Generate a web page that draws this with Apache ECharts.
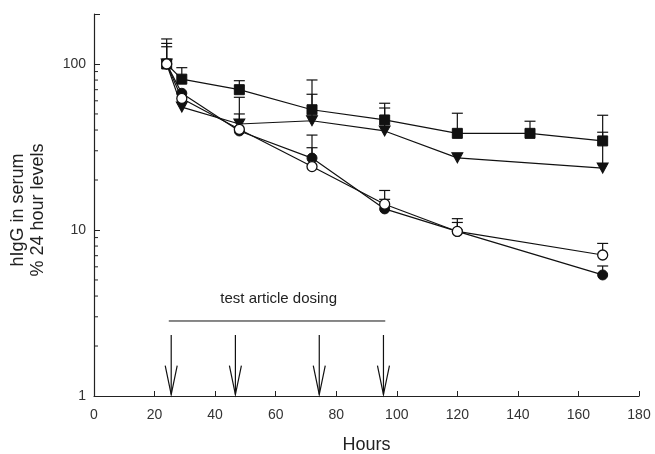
<!DOCTYPE html>
<html>
<head>
<meta charset="utf-8">
<script src="https://cdn.jsdelivr.net/npm/echarts@6/dist/echarts.min.js"></script>
<style>
html,body{margin:0;padding:0;background:#fff;}
#chart{width:655px;height:454px;}
</style>
</head>
<body>
<div id="chart"></div>
<script>
// hIgG serum levels, % of 24 hour level
var hoursSq = [24, 29, 48, 72, 96, 120, 144, 168];
var squares = [100, 81, 70, 53, 46, 38.2, 38.2, 34.4];
var squaresErr = [141.5, 95, 79.3, 80.1, 58, 50.5, 45.2, 49.1];

var hours = [24, 29, 48, 72, 96, 120, 168];
var triangles = [100, 55, 43.5, 45.5, 39.5, 27.2, 23.6];
var trianglesErr = [127, null, 63, 65.7, 54.3, null, 38.8];
var openCircles = [100, 62, 40.4, 24.1, 14.3, 9.8, 7.07];
var openErr = [null, null, 50, 31.3, 17.3, 11.7, 8.3];
var filledCircles = [100, 66.6, 39.5, 27.1, 13.4, 9.8, 5.36];
var filledErr = [133, null, null, 37.3, 15.3, 11.1, 6.07];

// dosing annotation
var dosingHours = [25.5, 46.7, 74.4, 95.6];
var arrowTop = 2.33, arrowTip = 1.02;
var bracket = [[24.7, 2.83], [96.2, 2.83]];
var dosingLabel = [61, 3.84, 'test article dosing'];

var minorTicks = [2, 3, 4, 5, 6, 7, 8, 9, 20, 30, 40, 50, 60, 70, 80, 90];

function pairs(xs, ys) {
    return xs.map(function (x, i) { return [x, ys[i]]; });
}
function errPairs(xs, ys, es) {
    var out = [];
    xs.forEach(function (x, i) {
        if (es[i] != null) out.push([x, ys[i], es[i]]);
    });
    return out;
}

var errData = [].concat(
    errPairs(hoursSq, squares, squaresErr),
    errPairs(hours, triangles, trianglesErr),
    errPairs(hours, openCircles, openErr),
    errPairs(hours, filledCircles, filledErr)
);

var font = 'Liberation Sans, Arial, sans-serif';
var myChart = echarts.init(document.getElementById('chart'));

var lineBase = {
    type: 'line',
    lineStyle: {color: '#111', width: 1.2},
    itemStyle: {color: '#111', borderColor: '#111', borderWidth: 1},
    animation: false,
    z: 5
};

var option = {
    backgroundColor: '#fff',
    animation: false,
    grid: {left: 94, right: 16, top: 14, bottom: 58, outerBoundsMode: 'none', containLabel: false},
    xAxis: {
        type: 'value',
        min: 0, max: 180, interval: 20,
        name: 'Hours',
        nameLocation: 'middle',
        nameGap: 40,
        nameTextStyle: {fontFamily: font, fontSize: 18, color: '#222'},
        axisLine: {lineStyle: {color: '#222', width: 1.2}},
        axisTick: {inside: true, length: 5, lineStyle: {color: '#222'}},
        axisLabel: {fontFamily: font, fontSize: 14, color: '#333', margin: 12},
        splitLine: {show: false}
    },
    yAxis: {
        type: 'log',
        logBase: 10,
        min: 1, max: 200,
        axisLine: {show: true, lineStyle: {color: '#222', width: 1.2}},
        axisTick: {inside: true, length: 6, lineStyle: {color: '#222'}},
        axisLabel: {
            fontFamily: font, fontSize: 14, color: '#333', margin: 8,
            formatter: function (v) { return v === 200 ? '' : v; }
        },
        splitLine: {show: false}
    },
    graphic: [{
        type: 'text',
        x: 28, y: 210,
        rotation: Math.PI / 2,
        style: {
            text: 'hIgG in serum\n% 24 hour levels',
            font: '18px ' + font,
            fill: '#222',
            align: 'center',
            verticalAlign: 'middle',
            lineHeight: 20
        }
    }],
    series: [
        {
            type: 'custom',
            name: 'minor ticks',
            silent: true,
            data: minorTicks,
            renderItem: function (params, api) {
                var p = api.coord([0, api.value(0)]);
                return {
                    type: 'line',
                    shape: {x1: p[0], y1: p[1], x2: p[0] + 4, y2: p[1]},
                    style: {stroke: '#222', lineWidth: 1}
                };
            },
            encode: {y: 0},
            z: 2
        },
        {
            type: 'custom',
            name: 'error bars',
            silent: true,
            data: errData,
            renderItem: function (params, api) {
                var lo = api.coord([api.value(0), api.value(1)]);
                var hi = api.coord([api.value(0), api.value(2)]);
                return {
                    type: 'group',
                    children: [{
                        type: 'line',
                        shape: {x1: lo[0], y1: lo[1], x2: hi[0], y2: hi[1]},
                        style: {stroke: '#111', lineWidth: 1.2}
                    }, {
                        type: 'line',
                        shape: {x1: hi[0] - 5.5, y1: hi[1], x2: hi[0] + 5.5, y2: hi[1]},
                        style: {stroke: '#111', lineWidth: 1.2}
                    }]
                };
            },
            encode: {x: 0, y: [1, 2]},
            z: 3
        },
        Object.assign({}, lineBase, {
            name: 'squares',
            data: pairs(hoursSq, squares),
            symbol: 'rect', symbolSize: 10
        }),
        Object.assign({}, lineBase, {
            name: 'triangles',
            data: pairs(hours, triangles),
            symbol: 'triangle', symbolRotate: 180, symbolSize: [11, 10]
        }),
        Object.assign({}, lineBase, {
            name: 'open circles',
            data: pairs(hours, openCircles),
            symbol: 'circle', symbolSize: 10,
            itemStyle: {color: '#fff', borderColor: '#111', borderWidth: 1.3},
            z: 6
        }),
        Object.assign({}, lineBase, {
            name: 'filled circles',
            data: pairs(hours, filledCircles),
            symbol: 'circle', symbolSize: 10
        }),
        {
            type: 'line',
            name: 'bracket',
            data: bracket,
            symbol: 'none',
            lineStyle: {color: '#111', width: 1},
            silent: true
        },
        {
            type: 'custom',
            name: 'dosing arrows',
            silent: true,
            data: dosingHours.map(function (h) { return [h, arrowTop, arrowTip]; }),
            renderItem: function (params, api) {
                var top = api.coord([api.value(0), api.value(1)]);
                var tip = api.coord([api.value(0), api.value(2)]);
                return {
                    type: 'group',
                    children: [{
                        type: 'line',
                        shape: {x1: top[0], y1: top[1], x2: tip[0], y2: tip[1]},
                        style: {stroke: '#111', lineWidth: 1.2}
                    }, {
                        type: 'polyline',
                        shape: {points: [[tip[0] - 6, tip[1] - 29], [tip[0], tip[1]], [tip[0] + 6, tip[1] - 29]]},
                        style: {stroke: '#111', lineWidth: 1.2, fill: 'none'}
                    }]
                };
            },
            encode: {x: 0, y: [1, 2]}
        },
        {
            type: 'custom',
            name: 'dosing label',
            silent: true,
            data: [dosingLabel],
            renderItem: function (params, api) {
                var p = api.coord([api.value(0), api.value(1)]);
                return {
                    type: 'text',
                    x: p[0], y: p[1],
                    style: {
                        text: dosingLabel[2],
                        font: '15px ' + font,
                        fill: '#222',
                        align: 'center',
                        verticalAlign: 'middle'
                    }
                };
            },
            encode: {x: 0, y: 1}
        }
    ]
};
myChart.setOption(option);
</script>
</body>
</html>
